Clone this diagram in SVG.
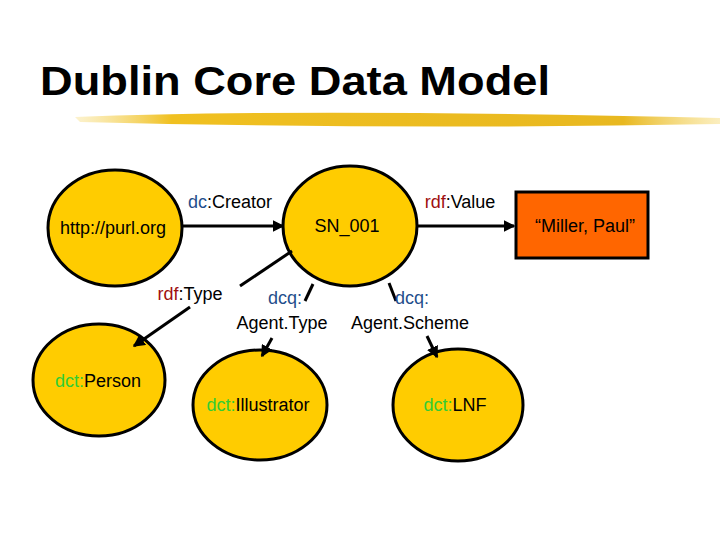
<svg xmlns="http://www.w3.org/2000/svg" width="720" height="540" viewBox="0 0 720 540">
<defs>
<style>
text{font-family:"Liberation Sans",Arial,sans-serif;font-size:18px;fill:#000}
.n{fill:#ffcc00;stroke:#000;stroke-width:3}
.e{stroke:#000;stroke-width:3;fill:none}
.b{fill:#1f4e8c}.r{fill:#a01010}.g{fill:#33cc33}
</style>
<marker id="m" markerWidth="4" markerHeight="4" refX="3.5" refY="2" orient="auto"><path d="M0,0L4,2L0,4z" fill="#000"/></marker>
<linearGradient id="br" x1="0" x2="1"><stop offset="0" stop-color="#f5d560" stop-opacity="0.3"/><stop offset="0.15" stop-color="#f0c020"/><stop offset="0.85" stop-color="#e8b820"/><stop offset="1" stop-color="#f5d560" stop-opacity="0.4"/></linearGradient>
</defs>
<text x="40" y="95" textLength="510" lengthAdjust="spacingAndGlyphs" style="font-size:41px;font-weight:bold">Dublin Core Data Model</text>
<path d="M75,117 Q300,108 720,118 L720,124 Q400,130 80,122 z" fill="url(#br)"/>
<g id="purl"><ellipse class="n" cx="115" cy="228" rx="67" ry="58"/><text x="113" y="234" text-anchor="middle">http://purl.org</text></g>
<g id="sn001"><ellipse class="n" cx="350" cy="226" rx="67" ry="60"/><text x="347" y="232" text-anchor="middle">SN_001</text></g>
<g id="miller"><rect x="516" y="192" width="132" height="66" fill="#ff6600" stroke="#000" stroke-width="3"/><text x="585" y="232" text-anchor="middle">“Miller, Paul”</text></g>
<g id="person"><ellipse class="n" cx="99" cy="380" rx="66" ry="56"/><text x="98" y="387" text-anchor="middle"><tspan class="g">dct:</tspan>Person</text></g>
<g id="illustrator"><ellipse class="n" cx="260" cy="405" rx="67" ry="55"/><text x="258" y="411" text-anchor="middle"><tspan class="g">dct:</tspan>Illustrator</text></g>
<g id="lnf"><ellipse class="n" cx="458" cy="405" rx="65" ry="56"/><text x="455" y="411" text-anchor="middle"><tspan class="g">dct:</tspan>LNF</text></g>
<g id="connectors">
<line class="e" x1="182" y1="226" x2="283" y2="226" marker-end="url(#m)"/>
<line class="e" x1="418" y1="226" x2="514" y2="226" marker-end="url(#m)"/>
<line class="e" x1="292" y1="251" x2="240" y2="286"/>
<line class="e" x1="190" y1="307" x2="134" y2="346" marker-end="url(#m)"/>
<line class="e" x1="313" y1="284" x2="305" y2="301"/>
<line class="e" x1="272" y1="338" x2="262" y2="356" marker-end="url(#m)"/>
<line class="e" x1="389" y1="283" x2="396" y2="301"/>
<line class="e" x1="427" y1="336" x2="437" y2="357" marker-end="url(#m)"/>
<text x="230" y="208" text-anchor="middle"><tspan class="b">dc</tspan>:Creator</text>
<text x="460" y="208" text-anchor="middle"><tspan class="r">rdf</tspan>:Value</text>
<text x="190" y="300" text-anchor="middle"><tspan class="r">rdf</tspan>:Type</text>
<text x="285" y="304" text-anchor="middle" class="b">dcq:</text>
<text x="282" y="329" text-anchor="middle">Agent.Type</text>
<text x="412" y="304" text-anchor="middle" class="b">dcq:</text>
<text x="410" y="329" text-anchor="middle">Agent.Scheme</text>
</g>
</svg>
